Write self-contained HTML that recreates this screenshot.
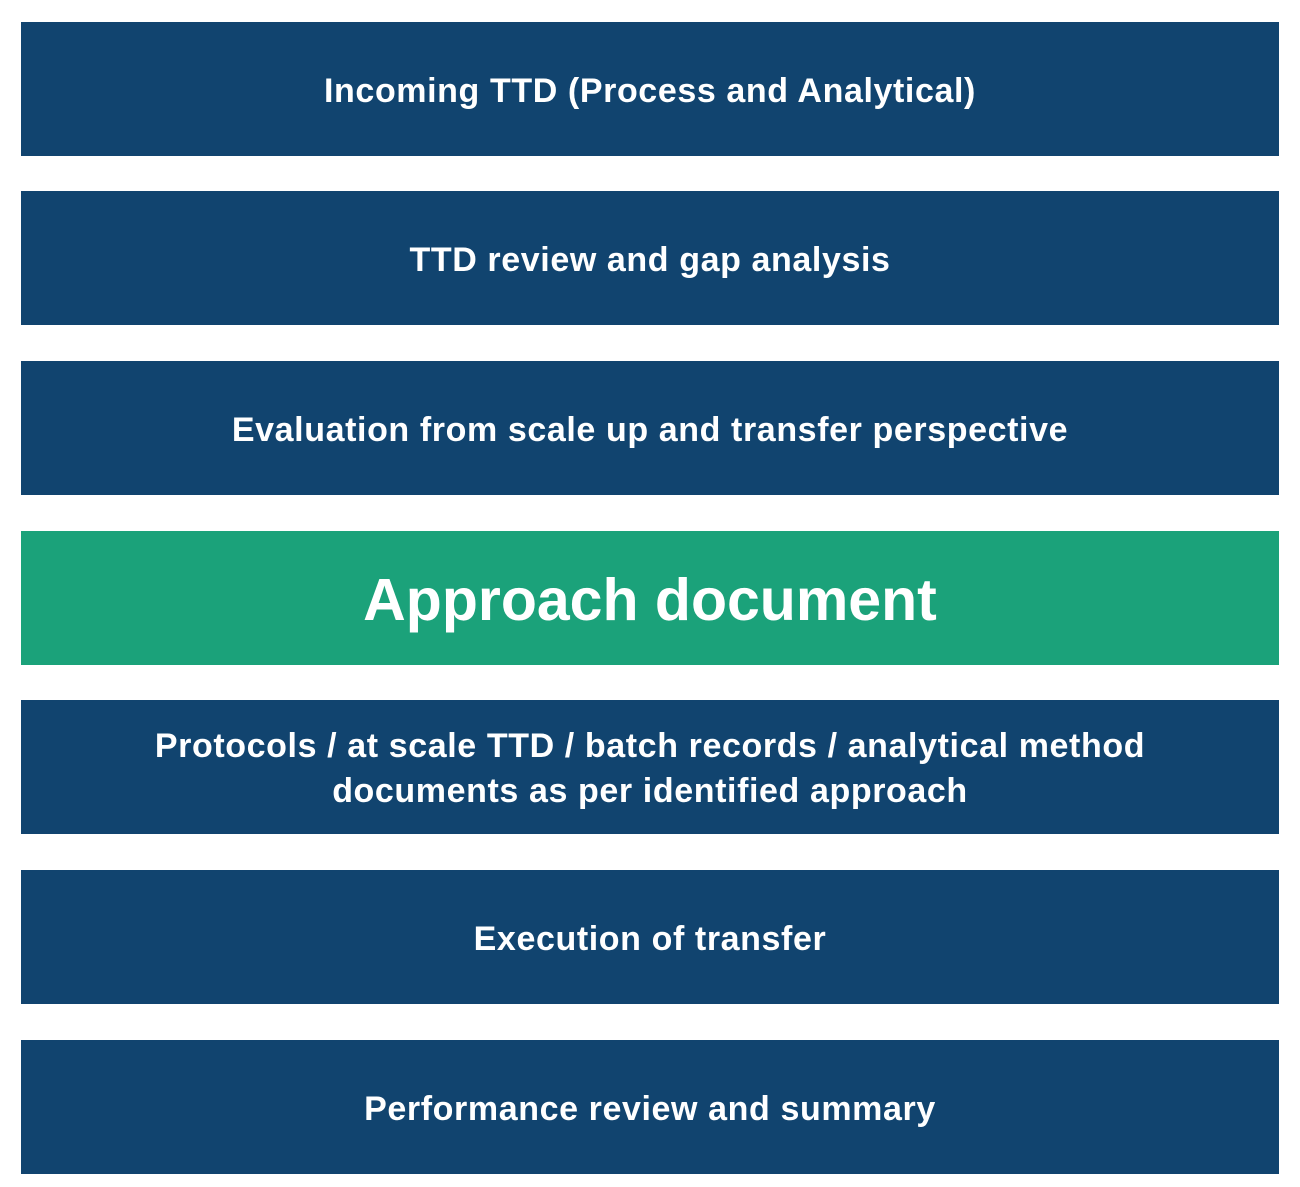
<!DOCTYPE html>
<html><head><style>
html,body{margin:0;padding:0;background:#fff;width:1300px;height:1187px;overflow:hidden}
.b{position:absolute;left:21px;width:1258px;height:134px;box-sizing:border-box;padding-top:4px;background:#11446f;color:#fff;font-family:"Liberation Sans",sans-serif;font-weight:bold;display:flex;align-items:center;justify-content:center;text-align:center}
.b span{display:inline-block;font-size:34px;line-height:45px;letter-spacing:0.6px;white-space:nowrap}
.g{background:#1ba27a}
.g span{font-size:59px;letter-spacing:0}
</style></head><body>
<div class="b" style="top:22px"><span>Incoming TTD (Process and Analytical)</span></div>
<div class="b" style="top:191px"><span>TTD review and gap analysis</span></div>
<div class="b" style="top:361px"><span>Evaluation from scale up and transfer perspective</span></div>
<div class="b g" style="top:531px"><span>Approach document</span></div>
<div class="b" style="top:700px"><span>Protocols / at scale TTD / batch records / analytical method<br>documents as per identified approach</span></div>
<div class="b" style="top:870px"><span>Execution of transfer</span></div>
<div class="b" style="top:1040px"><span>Performance review and summary</span></div>
</body></html>
